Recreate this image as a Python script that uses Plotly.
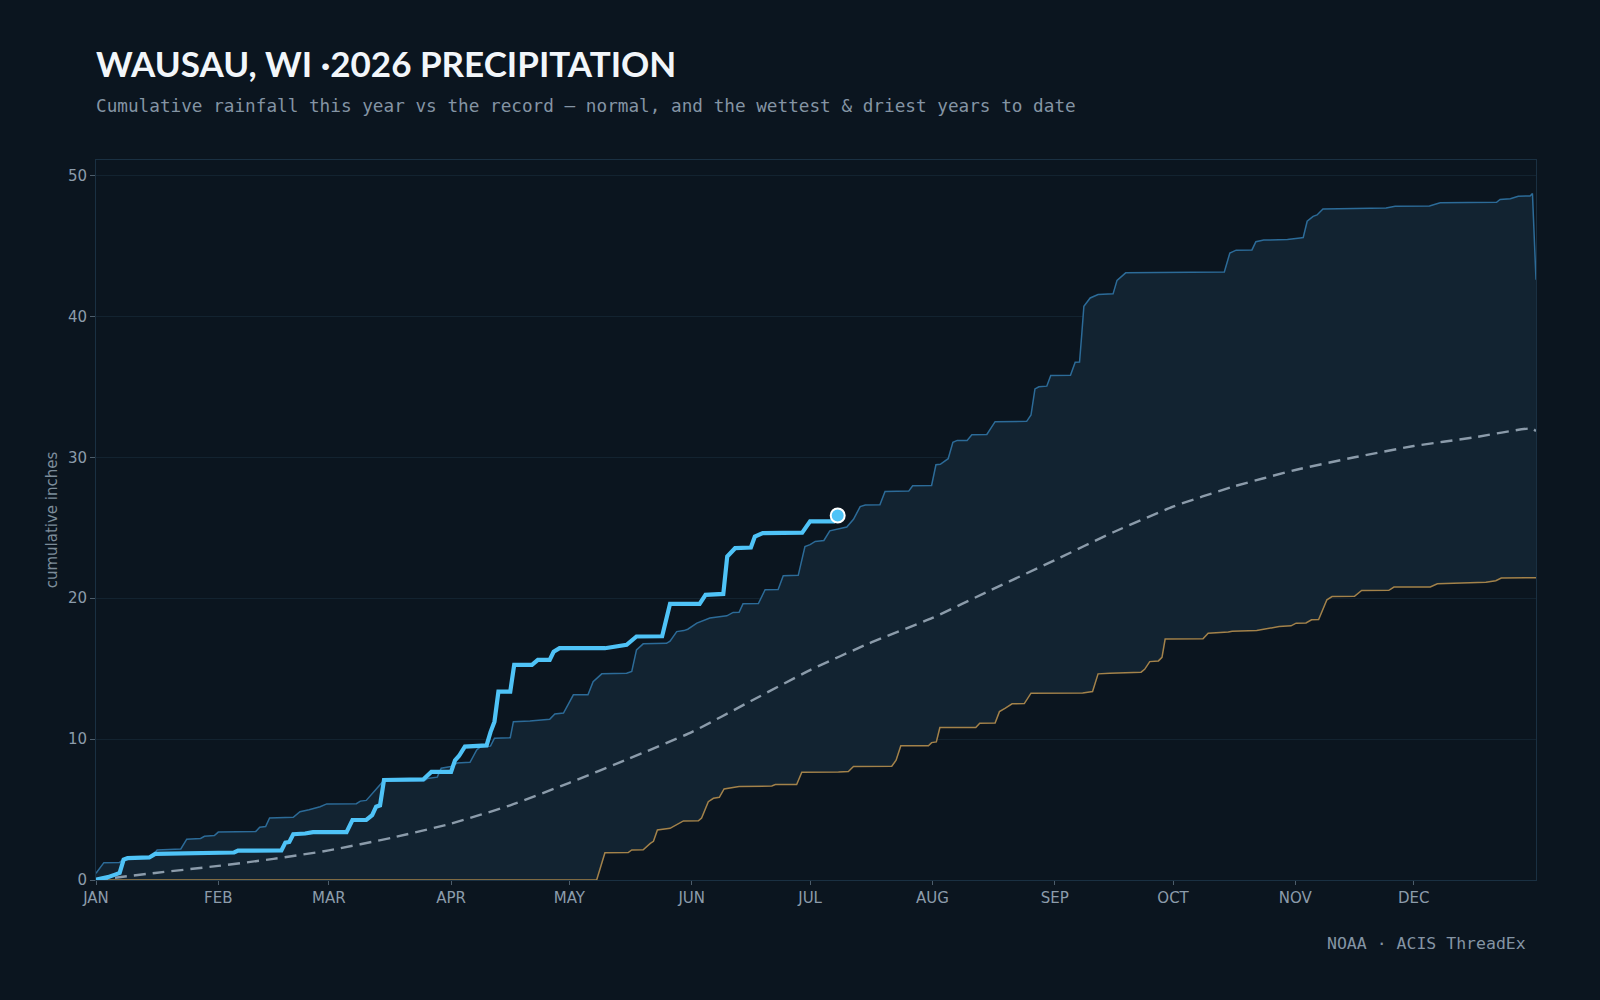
import plotly.graph_objects as go

# ---------------- data (day index from Jan 1, cumulative inches) ----------------
MONTH_START_DAYS = [0, 31, 59, 90, 120, 151, 181, 212, 243, 273, 304, 334]
MONTH_LABELS = ["JAN", "FEB", "MAR", "APR", "MAY", "JUN", "JUL", "AUG", "SEP", "OCT", "NOV", "DEC"]
Y_TICKS = [0, 10, 20, 30, 40, 50]

DAYS_2026 = [0, 3, 5, 6, 7, 8, 13.5, 15, 35, 36, 47, 48, 49, 50, 53, 55, 63.5, 65, 68.5, 70, 71, 72, 73,
             83, 85, 90, 91, 92, 93.5, 99, 100, 101, 102, 105, 106, 110.5, 112, 115, 116, 117.5, 129,
             131, 134.5, 137, 143.5, 145.5, 153, 154.5, 159, 160, 162, 166, 167, 169, 179, 181, 187, 188]
VALS_2026 = [0.03, 0.2, 0.4, 0.5, 1.45, 1.55, 1.6, 1.85, 1.95, 2.08, 2.1, 2.65, 2.7, 3.25, 3.3, 3.4, 3.4,
             4.26, 4.26, 4.6, 5.2, 5.3, 7.1, 7.15, 7.67, 7.67, 8.5, 8.8, 9.47, 9.55, 10.5, 11.24, 13.37,
             13.37, 15.27, 15.27, 15.62, 15.62, 16.2, 16.45, 16.45, 16.55, 16.69, 17.28, 17.3, 19.6, 19.6,
             20.24, 20.3, 22.96, 23.55, 23.6, 24.38, 24.62, 24.65, 25.45, 25.45, 25.87]

DAYS_NORMAL = [0, 15, 31, 45, 59, 75, 90, 105, 120, 135, 151, 166, 181, 196, 212, 227, 243, 258, 273,
               288, 304, 319, 334, 349, 364, 365]
VALS_NORMAL = [0.0, 0.5, 1.0, 1.5, 2.1, 3.0, 4.0, 5.3, 6.9, 8.6, 10.5, 12.7, 14.9, 16.8, 18.6, 20.6, 22.7,
               24.7, 26.5, 27.9, 29.1, 30.0, 30.8, 31.4, 32.05, 31.85]

DAYS_WETTEST = [0, 2, 6, 7, 8, 14, 15.5, 21.5, 23, 26.5, 27.5, 30, 31, 40.5, 41.5, 43, 44, 50, 51.7, 54,
                56.8, 58.5, 66, 67, 68.5, 70.3, 71.5, 72.8, 83, 84, 86.5, 87.5, 90, 91.5, 94.8, 96.5, 97.5,
                100, 101, 105, 105.8, 110, 115, 116.3, 118.5, 121, 124.7, 126, 128.2, 134.5, 135.8, 137,
                138.7, 144.6, 145.5, 147.2, 149, 150, 152.3, 155.6, 158, 159.9, 161.5, 163, 164, 167.9,
                169.6, 172.9, 174.2, 178, 179.7, 181, 182.3, 184.5, 186, 187.8, 190.3, 192, 193.7, 195,
                198.7, 200, 206, 207, 211.8, 212.9, 214, 216, 217.2, 218.3, 220.8, 222, 225.8, 227.9,
                235.9, 237, 238, 239, 241, 242, 247, 248.2, 249.3, 249.8, 250.4, 252, 254, 257.8, 258.8,
                261, 286, 287.4, 289, 293, 294, 296, 302, 305.2, 306, 307, 308.5, 309.5, 311, 327, 329.3,
                338, 340.7, 355, 355.9, 358.5, 360.5, 363.5, 364.1, 365]
VALS_WETTEST = [0.47, 1.23, 1.25, 1.5, 1.6, 1.62, 2.13, 2.2, 2.9, 2.95, 3.1, 3.15, 3.4, 3.45, 3.75, 3.8,
                4.4, 4.45, 4.85, 4.98, 5.2, 5.4, 5.42, 5.6, 5.65, 6.27, 6.6, 7.0, 7.0, 7.2, 7.3, 7.93, 8.05,
                8.3, 8.35, 9.23, 9.47, 9.5, 10.06, 10.1, 11.24, 11.28, 11.4, 11.79, 11.85, 13.14, 13.15,
                14.08, 14.63, 14.68, 14.8, 16.33, 16.76, 16.8, 16.95, 17.63, 17.7, 17.8, 18.23, 18.6, 18.7,
                18.75, 18.99, 19.0, 19.6, 19.62, 20.6, 20.62, 21.6, 21.62, 23.67, 23.8, 24.03, 24.1, 24.78,
                24.9, 25.05, 25.6, 26.5, 26.62, 26.63, 27.58, 27.6, 27.98, 28.0, 29.47, 29.5, 29.9, 31.06,
                31.2, 31.2, 31.6, 31.62, 32.53, 32.55, 33.0, 34.85, 35.0, 35.05, 35.8, 35.82, 36.74, 36.76,
                38.5, 40.72, 41.31, 41.55, 41.6, 42.56, 43.09, 43.15, 44.5, 44.7, 44.72, 45.3, 45.42, 45.45,
                45.57, 45.6, 46.75, 47.1, 47.2, 47.63, 47.7, 47.82, 47.83, 48.06, 48.1, 48.3, 48.35, 48.53,
                48.55, 48.72, 42.6]

DAYS_DRIEST = [0, 126.9, 129, 134.9, 135.8, 138.7, 140.5, 141.3, 142.3, 145.5, 148.9, 152.7, 153.5, 155.2,
               156.5, 158, 159.2, 161.5, 163, 171.3, 172.2, 177.6, 178.9, 188.2, 190.7, 192, 201.7, 202.8,
               204, 211, 211.8, 213, 213.9, 223, 224, 227.9, 229, 230.5, 232.2, 235.3, 237, 250.1, 252.6,
               254, 257, 264.9, 265.8, 267.1, 269.3, 270.2, 271, 280.6, 281.9, 287, 288, 294.2, 297.2,
               299.9, 302.9, 304.2, 306.7, 308.1, 309.9, 312, 313.3, 319, 320.8, 327.7, 329, 338.2, 340,
               345, 346.5, 352.3, 354.8, 356.2, 365]
VALS_DRIEST = [0, 0, 1.94, 1.95, 2.13, 2.15, 2.6, 2.75, 3.55, 3.67, 4.19, 4.2, 4.4, 5.56, 5.8, 5.87, 6.46,
               6.58, 6.63, 6.67, 6.77, 6.78, 7.65, 7.66, 7.7, 8.05, 8.07, 8.5, 9.52, 9.53, 9.75, 9.8, 10.82,
               10.83, 11.13, 11.15, 11.95, 12.2, 12.5, 12.52, 13.26, 13.27, 13.38, 14.63, 14.68, 14.75,
               14.95, 15.5, 15.55, 15.8, 17.1, 17.12, 17.52, 17.6, 17.65, 17.7, 17.83, 17.99, 18.04, 18.23,
               18.24, 18.47, 18.48, 19.89, 20.12, 20.13, 20.55, 20.56, 20.79, 20.8, 21.02, 21.05, 21.1,
               21.14, 21.24, 21.43, 21.45]

TITLE = "WAUSAU, WI ·2026 PRECIPITATION"
SUBTITLE = "Cumulative rainfall this year vs the record — normal, and the wettest & driest years to date"
SOURCE = "NOAA · ACIS ThreadEx"

# ---------------- styles ----------------
BG = "#0b151f"
BAND = "#122331"
WET = "#2c6b98"
DRY = "#a3824a"
NORMAL = "#8b9baa"
NOW = "#4fc3f7"
GRID = "#132330"
AXIS_LINE = "#1a3042"
TICK_TXT = "#8c9cab"

fig = go.Figure()

fig.add_trace(go.Scatter(x=DAYS_DRIEST, y=VALS_DRIEST, mode="lines",
                         line=dict(color=DRY, width=1.5), name="driest", hoverinfo="skip"))
fig.add_trace(go.Scatter(x=DAYS_WETTEST, y=VALS_WETTEST, mode="lines", fill="tonexty",
                         fillcolor=BAND, line=dict(color=WET, width=1.5), name="wettest",
                         hoverinfo="skip"))
fig.add_trace(go.Scatter(x=DAYS_NORMAL, y=VALS_NORMAL, mode="lines",
                         line=dict(color=NORMAL, width=2.4, dash="12px,7px", shape="spline", smoothing=0.5),
                         name="normal", hoverinfo="skip"))
fig.add_trace(go.Scatter(x=DAYS_2026, y=VALS_2026, mode="lines",
                         line=dict(color=NOW, width=4.2), name="2026", hoverinfo="skip"))
fig.add_trace(go.Scatter(x=[DAYS_2026[-1]], y=[VALS_2026[-1]], mode="markers",
                         marker=dict(color=NOW, size=14, line=dict(color="#ffffff", width=2)),
                         name="today", hoverinfo="skip"))

fig.update_layout(
    width=1600, height=1000,
    paper_bgcolor=BG, plot_bgcolor=BG,
    showlegend=False,
    margin=dict(l=96, r=64, t=160, b=120),
    font=dict(family="DejaVu Sans", color=TICK_TXT, size=15),
)

fig.update_xaxes(range=[0, 365], tickmode="array", tickvals=MONTH_START_DAYS, ticktext=MONTH_LABELS,
                 showgrid=False, zeroline=False, showline=True, linecolor=AXIS_LINE, linewidth=1,
                 mirror=True, ticks="outside", ticklen=4, tickcolor="#4d5d6b",
                 tickfont=dict(family="DejaVu Sans", size=15, color=TICK_TXT))
fig.update_yaxes(range=[0, 51.1], tickmode="array", tickvals=Y_TICKS,
                 showgrid=True, gridcolor=GRID, gridwidth=1, zeroline=False,
                 showline=True, linecolor=AXIS_LINE, linewidth=1, mirror=True,
                 ticks="outside", ticklen=5, tickcolor="#4d5d6b",
                 tickfont=dict(family="DejaVu Sans", size=15, color=TICK_TXT),
                 title=dict(text="cumulative inches", standoff=6,
                            font=dict(family="DejaVu Sans", size=15, color="#7d8d9b")))

def px_y(ypx):
    return (880 - ypx) / 720.0

fig.add_annotation(text=TITLE, xref="paper", yref="paper", x=-0.0015, y=px_y(63), xanchor="left",
                   yanchor="middle", showarrow=False,
                   font=dict(family="Lato", size=35, color="#f2f6fa", weight="bold"))
fig.add_annotation(text=SUBTITLE, xref="paper", yref="paper", x=-0.0015, y=px_y(106), xanchor="left",
                   yanchor="middle", showarrow=False,
                   font=dict(family="DejaVu Sans Mono", size=17.7, color="#8494a4"))
fig.add_annotation(text=SOURCE, xref="paper", yref="paper", x=(1528 - 96) / 1440, y=px_y(944),
                   xanchor="right", yanchor="middle", showarrow=False,
                   font=dict(family="DejaVu Sans Mono", size=16.5, color="#8494a4"))

fig.write_html("out.html")
